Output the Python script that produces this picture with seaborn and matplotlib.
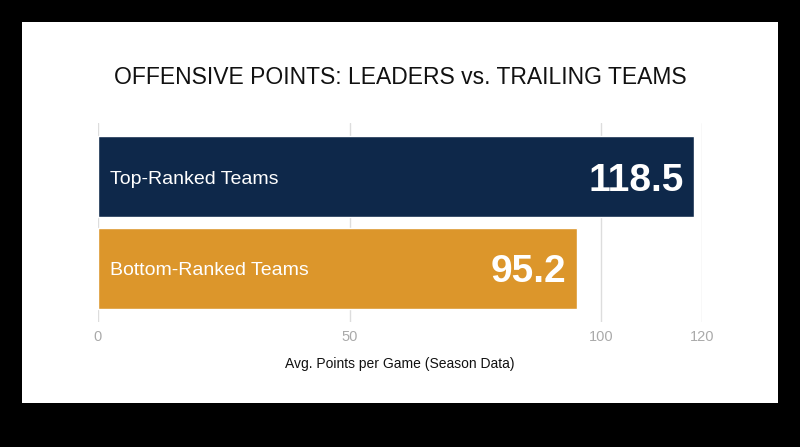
import matplotlib
matplotlib.use("Agg")
import matplotlib.pyplot as plt
import seaborn as sns
import pandas as pd
from matplotlib.patches import Rectangle

# Données
teams = ["Top-Ranked Teams", "Bottom-Ranked Teams"]
points = [118.5, 95.2]
bar_colors = ["#0E284A", "#DC962B"]
ticks = [0, 50, 100, 120]

sns.set_theme(style="white")
plt.rcParams['font.family'] = ['Liberation Sans', 'DejaVu Sans']

df = pd.DataFrame({"team": teams, "points": points})

fig = plt.figure(figsize=(8, 4.47), dpi=100)
fig.patch.set_facecolor("black")
# carte blanche (derrière les axes)
fig.patches.append(Rectangle((22 / 800, 1 - 403 / 447), 756 / 800, 381 / 447,
                             transform=fig.transFigure, facecolor="white",
                             edgecolor="none", zorder=-10))

ax = fig.add_axes([98 / 800, 1 - 322 / 447, 604 / 800, 199 / 447])
ax.set_facecolor("none")
sns.barplot(data=df, y="team", x="points", hue="team", palette=bar_colors,
            width=0.89, legend=False, ax=ax, zorder=2, saturation=1)

ax.set_xlim(0, 120)
ax.set_ylim(1.593, -0.593)
ax.set_xticks(ticks)
ax.set_xticklabels([str(t) for t in ticks], color="#AAAAAA", fontsize=10.5)
ax.tick_params(axis="x", length=0, pad=6)
ax.set_yticks([])
ax.set_ylabel("")
ax.set_xlabel("Avg. Points per Game (Season Data)", fontsize=10, color="#111111", labelpad=9)
ax.grid(axis="x", color="#DDDDDD", linewidth=1, zorder=0)
ax.set_axisbelow(True)
for s in ax.spines.values():
    s.set_visible(False)

# étiquettes dans les barres
for i, (name, val) in enumerate(zip(teams, points)):
    ax.text(2.4, i + 0.03, name, color="white", fontsize=14, va="center", ha="left", zorder=3)
    ax.text(val - 2.2, i + 0.04, f"{val}", color="white", fontsize=28, fontweight="bold",
            va="center", ha="right", zorder=3)

fig.text(0.5, 1 - 77 / 447, "OFFENSIVE POINTS: LEADERS vs. TRAILING TEAMS",
         ha="center", va="center", fontsize=16.5, color="#111111")

fig.savefig("out.png", dpi=100, facecolor=fig.get_facecolor())
